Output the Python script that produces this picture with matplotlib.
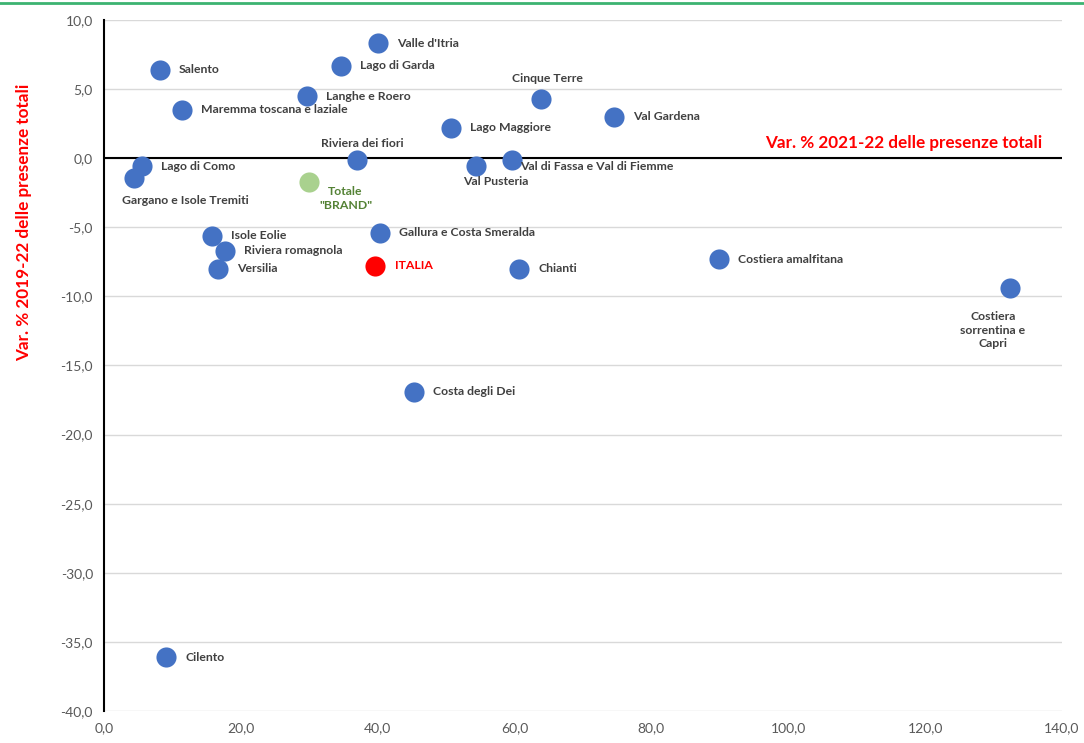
import matplotlib.pyplot as plt
from matplotlib.lines import Line2D
from matplotlib.ticker import FuncFormatter

plt.rcParams['font.family'] = ['Lato', 'DejaVu Sans']

# dati: var. % 2021-22 (x) e var. % 2019-22 (y) delle presenze totali
names = ["Valle d'Itria", "Salento", "Lago di Garda", "Langhe e Roero",
         "Maremma toscana e laziale", "Cinque Terre", "Val Gardena",
         "Lago Maggiore", "Riviera dei fiori", "Lago di Como",
         "Gargano e Isole Tremiti", "Val Pusteria", "Val di Fassa e Val di Fiemme",
         "Isole Eolie", "Riviera romagnola", "Versilia", "Gallura e Costa Smeralda",
         "Chianti", "Costiera amalfitana", "Costiera\nsorrentina e\nCapri",
         "Costa degli Dei", "Cilento"]
var_21_22 = [40.1, 8.2, 34.6, 29.6, 11.4, 63.9, 74.5, 50.7, 36.9, 5.5, 4.4,
             54.3, 59.6, 15.8, 17.7, 16.6, 40.4, 60.7, 89.9, 132.4, 45.3, 9.1]
var_19_22 = [8.3, 6.4, 6.7, 4.5, 3.5, 4.3, 3.0, 2.2, -0.1, -0.6, -1.4,
             -0.6, -0.1, -5.6, -6.7, -8.0, -5.4, -8.0, -7.3, -9.4, -16.9, -36.1]

brand_x, brand_y = 29.9, -1.7
italia_x, italia_y = 39.6, -7.8

# offset etichette in pixel (dx, dy, ha)
offsets = {
    "Cinque Terre": (6, 20, 'center'),
    "Riviera dei fiori": (6, 16, 'center'),
    "Gargano e Isole Tremiti": (51, -23, 'center'),
    "Val Pusteria": (20, -15, 'center'),
    "Val di Fassa e Val di Fiemme": (8, -7, 'left'),
    "Costiera\nsorrentina e\nCapri": (-17, -42, 'center'),
}

fig = plt.figure(figsize=(10.84, 7.43), dpi=100)
ax = fig.add_axes([104 / 1084, 1 - 711 / 743, 958 / 1084, 691 / 743])

ax.scatter(var_21_22, var_19_22, s=210, color='#4472C4', zorder=3, linewidths=0)
ax.scatter([brand_x], [brand_y], s=210, color='#A9D18E', zorder=3, linewidths=0)
ax.scatter([italia_x], [italia_y], s=210, color='#FF0000', zorder=3, linewidths=0)

px = 0.72  # pixel -> punti a 100 dpi
for n, x, y in zip(names, var_21_22, var_19_22):
    dx, dy, ha = offsets.get(n, (19, 0, 'left'))
    ax.annotate(n, (x, y), xytext=(dx * px, dy * px), textcoords='offset points',
                ha=ha, va='center', fontsize=8.8, fontweight='bold', color='#404040',
                linespacing=1.3, zorder=4)

ax.annotate('Totale\n"BRAND"', (brand_x, brand_y), xytext=(37 * px, -17 * px),
            textcoords='offset points', ha='center', va='center', fontsize=8.8,
            fontweight='bold', color='#548235', linespacing=1.3)
ax.annotate('ITALIA', (italia_x, italia_y), xytext=(20 * px, 0),
            textcoords='offset points', ha='left', va='center', fontsize=8.8,
            fontweight='bold', color='#FF0000')

ax.set_xlim(0, 140)
ax.set_ylim(-40, 10)
ax.set_xticks(range(0, 141, 20))
ax.set_yticks(range(-40, 11, 5))
fmt = FuncFormatter(lambda v, p: f'{v:.1f}'.replace('.', ','))
ax.xaxis.set_major_formatter(fmt)
ax.yaxis.set_major_formatter(fmt)
ax.tick_params(length=0, labelsize=10, colors='#595959', pad=8)
ax.grid(axis='y', color='#D9D9D9', linewidth=1)
ax.set_axisbelow(True)
for s in ['top', 'right', 'bottom']:
    ax.spines[s].set_visible(False)
ax.spines['left'].set_color('black')
ax.spines['left'].set_linewidth(1.5)
ax.axhline(0, color='black', linewidth=1.5, zorder=2)

# titoli degli assi
ax.annotate('Var. % 2021-22 delle presenze totali', (137.2, 0), xytext=(0, 7 * px),
            textcoords='offset points', ha='right', va='bottom', fontsize=12.3,
            fontweight='bold', color='#FF0000')
fig.text(24 / 1084, 1 - 222 / 743, 'Var. % 2019-22 delle presenze totali', rotation=90,
         ha='center', va='center', fontsize=12.3, fontweight='bold', color='#FF0000')

# linea verde in alto
fig.add_artist(Line2D([0, 1], [1 - 3 / 743, 1 - 3 / 743], transform=fig.transFigure,
                      color='#3CB371', linewidth=2))

fig.savefig('out.png', dpi=100)
